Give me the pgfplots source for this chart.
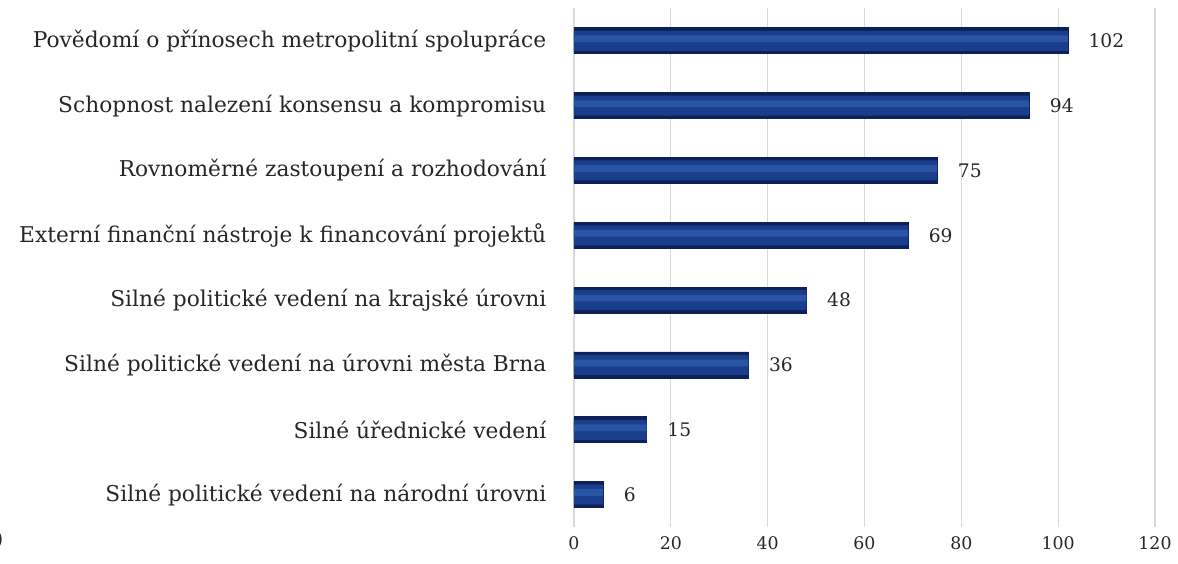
\documentclass[border=0pt]{standalone}
\usepackage{pgfplots}
\pgfplotsset{compat=1.18}
\usepackage{fontspec}
\setmainfont{DejaVu Serif}
\definecolor{navyD}{RGB}{13,33,88}
\definecolor{navyM}{RGB}{27,62,140}
\definecolor{navyL}{RGB}{42,84,164}
\definecolor{gridc}{RGB}{217,217,217}
\begin{document}
\begin{tikzpicture}
\useasboundingbox (-430.5pt,-27.75pt) rectangle (453pt,395.25pt);
\begin{axis}[
  at={(0,0)}, anchor=south west,
  scale only axis, width=435.75pt, height=389pt,
  xbar,
  xmin=0, xmax=120, ymin=-0.5, ymax=7.5,
  xtick={0,20,...,120},
  ytick={0,...,7},
  yticklabels={Silné politické vedení na národní úrovni,
    Silné úřednické vedení,
    Silné politické vedení na úrovni města Brna,
    Silné politické vedení na krajské úrovni,
    Externí finanční nástroje k financování projektů,
    Rovnoměrné zastoupení a rozhodování,
    Schopnost nalezení konsensu a kompromisu,
    Povědomí o přínosech metropolitní spolupráce},
  xmajorgrids, grid style={gridc, line width=0.9pt},
  axis line style={draw=none},
  major tick style={draw=none},
  /pgf/number format/assume math mode=true,
  yticklabel style={font=\fontsize{16.3}{19}\selectfont, text=black!85, xshift=-13pt},
  xticklabel style={font=\fontsize{13}{16}\selectfont, text=black!85, yshift=-4pt},
]
\addplot[bar shift=0pt, bar width=19.5pt, draw=navyD, line width=0.5pt, fill=navyD,
  nodes near coords, point meta=x,
  nodes near coords style={font=\fontsize{14}{16}\selectfont, text=black!85, anchor=west, xshift=12pt}]
  coordinates {(6,0) (15,1) (36,2) (48,3) (69,4) (75,5) (94,6) (102,7)};
\addplot[bar shift=0pt, bar width=15pt, draw=none, fill=navyM]
  coordinates {(6,0) (15,1) (36,2) (48,3) (69,4) (75,5) (94,6) (102,7)};
\addplot[bar shift=1.5pt, bar width=5pt, draw=none, fill=navyL]
  coordinates {(6,0) (15,1) (36,2) (48,3) (69,4) (75,5) (94,6) (102,7)};
\end{axis}
\node[anchor=east, font=\fontsize{14}{16}\selectfont, text=black!85] at (-424.5pt,-9.75pt) {)};
\end{tikzpicture}
\end{document}
